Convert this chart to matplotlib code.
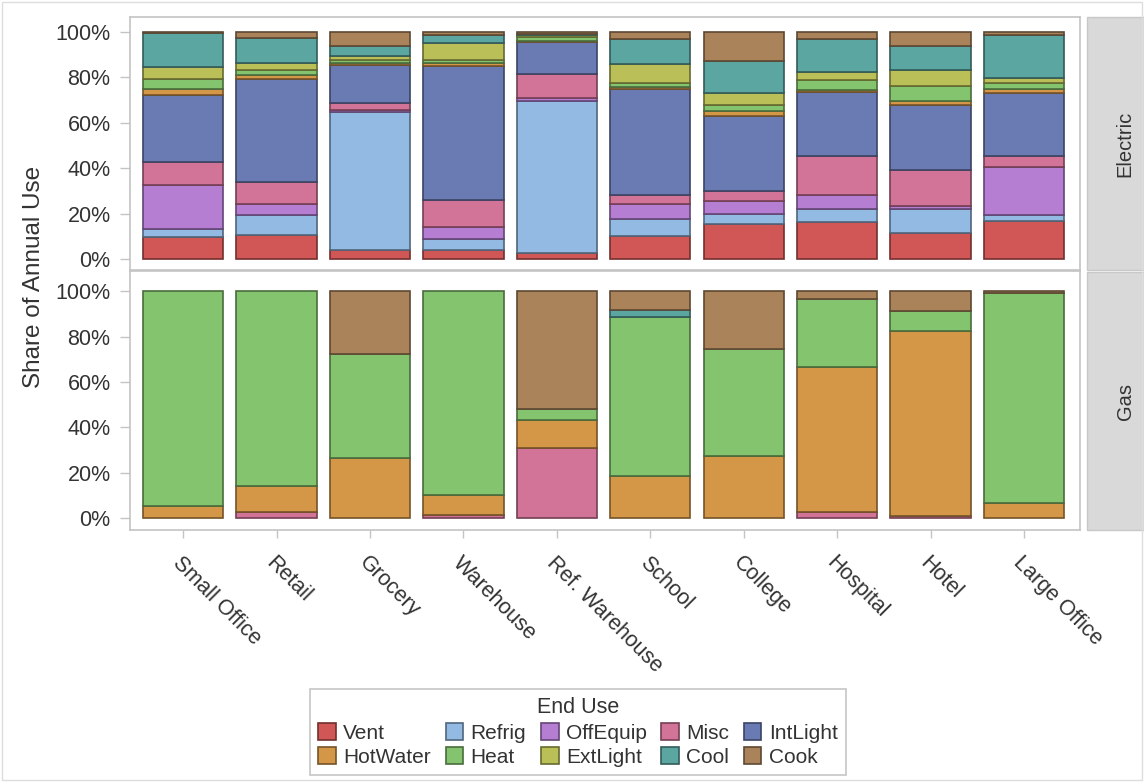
import matplotlib
matplotlib.use("Agg")
import matplotlib.pyplot as plt
from matplotlib.patches import Rectangle
from matplotlib.colors import to_rgb
from matplotlib.ticker import FuncFormatter

plt.rcParams['font.family'] = ['Liberation Sans', 'DejaVu Sans']

buildings = ["Small Office", "Retail", "Grocery", "Warehouse", "Ref. Warehouse",
             "School", "College", "Hospital", "Hotel", "Large Office"]

end_uses = ["Vent", "Refrig", "OffEquip", "Misc", "IntLight",
            "HotWater", "Heat", "ExtLight", "Cool", "Cook"]

colors = {
    "Vent": "#d15656",
    "Refrig": "#92bae2",
    "OffEquip": "#b57ed2",
    "Misc": "#d27398",
    "IntLight": "#6a7bb4",
    "HotWater": "#d49647",
    "Heat": "#84c46f",
    "ExtLight": "#bac057",
    "Cool": "#5ba6a1",
    "Cook": "#ab835b",
}

# Electric end-use shares (%) per building type
elec_vent     = [9.6, 10.5, 3.7, 3.7, 2.7, 10.0, 15.5, 16.4, 11.5, 16.7]
elec_refrig   = [3.5, 8.8, 60.9, 4.9, 67.1, 7.4, 4.4, 5.5, 10.3, 2.7]
elec_offequip = [19.5, 4.7, 1.0, 5.5, 1.2, 6.9, 5.6, 6.3, 1.5, 20.9]
elec_misc     = [9.9, 10.0, 2.9, 11.8, 10.3, 3.8, 4.4, 17.3, 15.8, 5.2]
elec_intlight = [29.8, 45.4, 16.8, 59.3, 14.2, 46.8, 33.2, 28.0, 28.5, 27.7]
elec_hotwater = [2.7, 1.5, 1.0, 1.0, 0.5, 1.0, 1.9, 1.0, 1.9, 1.5]
elec_heat     = [4.4, 2.2, 1.5, 1.5, 2.0, 1.5, 3.0, 4.4, 6.5, 2.7]
elec_extlight = [5.2, 3.2, 1.5, 7.4, 0.5, 8.6, 4.9, 3.4, 7.4, 2.2]
elec_cool     = [14.9, 11.2, 4.4, 3.4, 0.5, 11.0, 14.3, 14.7, 10.3, 19.2]
elec_cook     = [0.5, 2.5, 6.3, 1.5, 1.0, 3.0, 12.8, 3.0, 6.3, 1.2]

# Gas end-use shares (%) per building type
gas_misc     = [0.0, 2.5, 0.0, 1.2, 30.9, 0.0, 0.0, 2.5, 1.0, 0.0]
gas_hotwater = [5.4, 11.8, 26.5, 8.8, 12.5, 18.4, 27.2, 64.1, 81.3, 6.6]
gas_heat     = [94.6, 85.7, 45.6, 90.0, 4.7, 70.3, 47.4, 30.0, 8.9, 92.4]
gas_cool     = [0.0, 0.0, 0.0, 0.0, 0.0, 2.9, 0.0, 0.0, 0.0, 0.0]
gas_cook     = [0.0, 0.0, 27.9, 0.0, 51.9, 8.4, 25.4, 3.4, 8.8, 1.0]

electric = {"Vent": elec_vent, "Refrig": elec_refrig, "OffEquip": elec_offequip,
            "Misc": elec_misc, "IntLight": elec_intlight, "HotWater": elec_hotwater,
            "Heat": elec_heat, "ExtLight": elec_extlight, "Cool": elec_cool,
            "Cook": elec_cook}
gas = {"Misc": gas_misc, "HotWater": gas_hotwater, "Heat": gas_heat,
       "Cool": gas_cool, "Cook": gas_cook}


def darker(c, f=0.55):
    r, g, b = to_rgb(c)
    return (r * f, g * f, b * f)


W, H = 1144, 782
fig = plt.figure(figsize=(W / 100, H / 100), dpi=100)
fig.patch.set_facecolor("white")

def fx(px):
    return px / W

def fy(py):
    return 1 - py / H

left, right = 130, 1080
ax_e = fig.add_axes([fx(left), fy(270), fx(right) - fx(left), fy(17) - fy(270)])
ax_g = fig.add_axes([fx(left), fy(530), fx(right) - fx(left), fy(271) - fy(530)])

x = list(range(len(buildings)))
bar_w = 0.86
frame_col = "#c4c4c4"
text_col = "#333333"


def stack(ax, data):
    bottoms = [0.0] * len(buildings)
    for use in end_uses:
        if use not in data:
            continue
        vals = data[use]
        xs = [xi for xi, v in zip(x, vals) if v > 0]
        hs = [v for v in vals if v > 0]
        bs = [b for b, v in zip(bottoms, vals) if v > 0]
        ax.bar(xs, hs, bottom=bs, width=bar_w, color=colors[use],
               edgecolor=darker(colors[use]), linewidth=1.2, zorder=2)
        bottoms = [b + v for b, v in zip(bottoms, vals)]


stack(ax_e, electric)
stack(ax_g, gas)

pct = FuncFormatter(lambda v, _: f"{v:.0f}%")
for ax, ylim in ((ax_e, (-4.9, 106.6)), (ax_g, (-5.3, 108.9))):
    ax.set_xlim(-0.57, 9.6)
    ax.set_ylim(*ylim)
    ax.set_yticks([0, 20, 40, 60, 80, 100])
    ax.yaxis.set_major_formatter(pct)
    for s in ax.spines.values():
        s.set_color(frame_col)
        s.set_linewidth(1.2)
    ax.tick_params(axis="y", labelsize=15.5, colors=frame_col, labelcolor=text_col,
                   length=7, width=1, pad=7)
    ax.set_facecolor("white")

ax_e.set_xticks(x)
ax_e.tick_params(axis="x", bottom=False, labelbottom=False)

ax_g.set_xticks(x)
ax_g.set_xticklabels(buildings, rotation=-45, ha="left", va="top",
                     rotation_mode="anchor", fontsize=15.5, color=text_col)
ax_g.tick_params(axis="x", colors=frame_col, labelcolor=text_col, length=6,
                 width=1, pad=10)

fig.text(fx(34), fy(277), "Share of Annual Use", rotation=90, ha="center",
         va="center", fontsize=17.5, color=text_col)

# Row headers on the right
strip_col = "#d9d9d9"
for (top, bot, label) in ((17, 270, "Electric"), (272, 530, "Gas")):
    fig.patches.append(Rectangle((fx(1087), fy(bot)), fx(1150) - fx(1087),
                                 fy(top) - fy(bot), transform=fig.transFigure,
                                 facecolor=strip_col, edgecolor="#c8c8c8",
                                 linewidth=1, zorder=0))
    fig.text(fx(1125), (fy(top) + fy(bot)) / 2, label, rotation=90,
             ha="center", va="center", fontsize=14.5, color=text_col)

# Legend (row-wise reading order across 5 columns)
order = ["Vent", "HotWater", "Refrig", "Heat", "OffEquip", "ExtLight",
         "Misc", "Cool", "IntLight", "Cook"]
handles = [Rectangle((0, 0), 1, 1, facecolor=colors[u],
                     edgecolor=darker(colors[u]), linewidth=1.2) for u in order]
leg = fig.legend(handles, order, loc="lower center",
                 bbox_to_anchor=(fx(578), fy(775)), ncol=5, fontsize=15,
                 title="End Use", title_fontsize=15.5, frameon=True,
                 fancybox=False, edgecolor="#b8b8b8", handlelength=0.85,
                 handleheight=0.85, handletextpad=0.35, columnspacing=0.7,
                 labelspacing=0.22, borderpad=0.4, borderaxespad=0)
leg.get_frame().set_linewidth(1.2)
for t in leg.get_texts():
    t.set_color(text_col)
leg.get_title().set_color(text_col)

# Light outer border
fig.patches.append(Rectangle((0.002, 0.002), 0.996, 0.996, transform=fig.transFigure,
                             facecolor="none", edgecolor="#dddddd", linewidth=1))

fig.savefig("out.png", dpi=100)
